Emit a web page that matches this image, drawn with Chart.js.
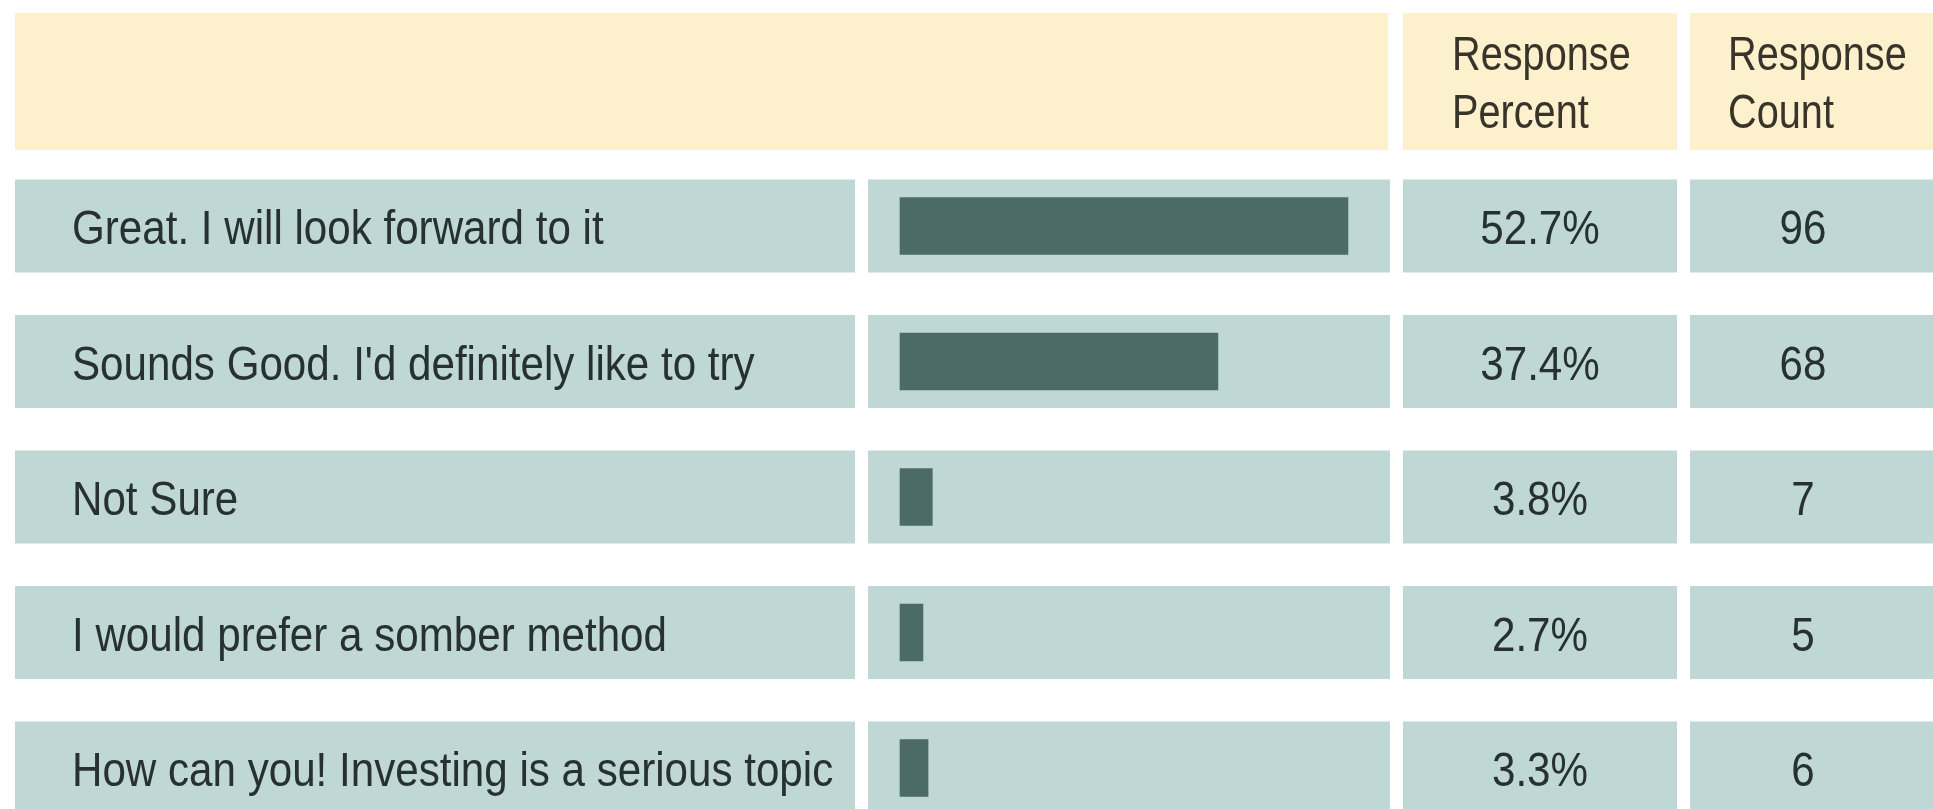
<!DOCTYPE html>
<html>
<head>
<meta charset="utf-8">
<script src="https://cdn.jsdelivr.net/npm/chart.js@4.4.1/dist/chart.umd.min.js"></script>
<style>
  html, body { margin: 0; padding: 0; background: #ffffff; }
  #wrap { width: 1933px; height: 809px; }
</style>
</head>
<body>
<div id="wrap"><canvas id="c" width="1933" height="809"></canvas></div>
<script>
// ---- data ----
const categories = [
  "Great. I will look forward to it",
  "Sounds Good. I'd definitely like to try",
  "Not Sure",
  "I would prefer a somber method",
  "How can you! Investing is a serious topic"
];
const percentValues = [52.7, 37.4, 3.8, 2.7, 3.3];
const countValues = [96, 68, 7, 5, 6];
const headerPercent = ["Response", "Percent"];
const headerCount = ["Response", "Count"];

// ---- styles / layout ----
const FONT = "'Liberation Sans', Arial, 'DejaVu Sans', sans-serif";
const COLORS = { header: '#fdf0cc', row: '#c0d8d5', bar: '#4b6a68', text: '#27312f', headerText: '#38342a' };
const LAYOUT = {
  headerTop: 13, headerBottom: 150, rowHalf: 46.5,
  headerLeft: [15, 1388],
  labelCell: [15, 855], barCell: [868, 1390], pctCell: [1403, 1677], cntCell: [1690, 1933],
  labelX: 72,
  pctHeaderX: 1452, cntHeaderX: 1728, headerBaselines: [70, 128],
  pctCenter: 1540, cntCenter: 1803,
  fontSize: 49, bodyStretch: 0.86, headerStretch: 0.81, baselineShift: 18
};

function drawCondensed(ctx, text, x, y, align, sx) {
  ctx.save();
  ctx.translate(x, y);
  ctx.scale(sx, 1);
  ctx.textAlign = align;
  ctx.fillText(text, 0, 0);
  ctx.restore();
}

const tablePlugin = {
  id: 'tableCells',
  beforeDraw(chart) {
    const ctx = chart.ctx;
    const y = chart.scales.y;
    ctx.save();
    ctx.fillStyle = '#ffffff';
    ctx.fillRect(0, 0, chart.width, chart.height);
    ctx.fillStyle = COLORS.header;
    const hh = LAYOUT.headerBottom - LAYOUT.headerTop;
    ctx.fillRect(LAYOUT.headerLeft[0], LAYOUT.headerTop, LAYOUT.headerLeft[1] - LAYOUT.headerLeft[0], hh);
    ctx.fillRect(LAYOUT.pctCell[0], LAYOUT.headerTop, LAYOUT.pctCell[1] - LAYOUT.pctCell[0], hh);
    ctx.fillRect(LAYOUT.cntCell[0], LAYOUT.headerTop, LAYOUT.cntCell[1] - LAYOUT.cntCell[0], hh);
    ctx.fillStyle = COLORS.row;
    categories.forEach((c, i) => {
      const cy = y.getPixelForValue(i);
      const top = cy - LAYOUT.rowHalf, h = LAYOUT.rowHalf * 2;
      [LAYOUT.labelCell, LAYOUT.barCell, LAYOUT.pctCell, LAYOUT.cntCell].forEach(cell => {
        ctx.fillRect(cell[0], top, cell[1] - cell[0], h);
      });
    });
    ctx.restore();
  },
  afterDraw(chart) {
    const ctx = chart.ctx;
    const y = chart.scales.y;
    ctx.save();
    ctx.font = LAYOUT.fontSize + "px " + FONT;
    ctx.textBaseline = 'alphabetic';
    ctx.fillStyle = COLORS.headerText;
    headerPercent.forEach((t, k) => drawCondensed(ctx, t, LAYOUT.pctHeaderX, LAYOUT.headerBaselines[k], 'left', LAYOUT.headerStretch));
    headerCount.forEach((t, k) => drawCondensed(ctx, t, LAYOUT.cntHeaderX, LAYOUT.headerBaselines[k], 'left', LAYOUT.headerStretch));
    ctx.fillStyle = COLORS.text;
    categories.forEach((label, i) => {
      const by = y.getPixelForValue(i) + LAYOUT.baselineShift;
      drawCondensed(ctx, label, LAYOUT.labelX, by, 'left', LAYOUT.bodyStretch);
      drawCondensed(ctx, percentValues[i].toFixed(1) + '%', LAYOUT.pctCenter, by, 'center', LAYOUT.bodyStretch);
      drawCondensed(ctx, String(countValues[i]), LAYOUT.cntCenter, by, 'center', LAYOUT.bodyStretch);
    });
    ctx.restore();
  }
};

new Chart(document.getElementById('c'), {
  type: 'bar',
  data: {
    labels: categories,
    datasets: [{
      data: percentValues,
      backgroundColor: COLORS.bar,
      borderWidth: 0,
      barThickness: 57,
      clip: false
    }]
  },
  options: {
    indexAxis: 'y',
    responsive: false,
    animation: false,
    devicePixelRatio: 1,
    layout: { padding: { left: 900, right: 523, top: 226, bottom: 41 } },
    plugins: { legend: { display: false }, tooltip: { enabled: false } },
    scales: {
      x: { display: false, min: 0, max: 60 },
      y: { display: false, offset: false }
    }
  },
  plugins: [tablePlugin]
});
</script>
</body>
</html>
